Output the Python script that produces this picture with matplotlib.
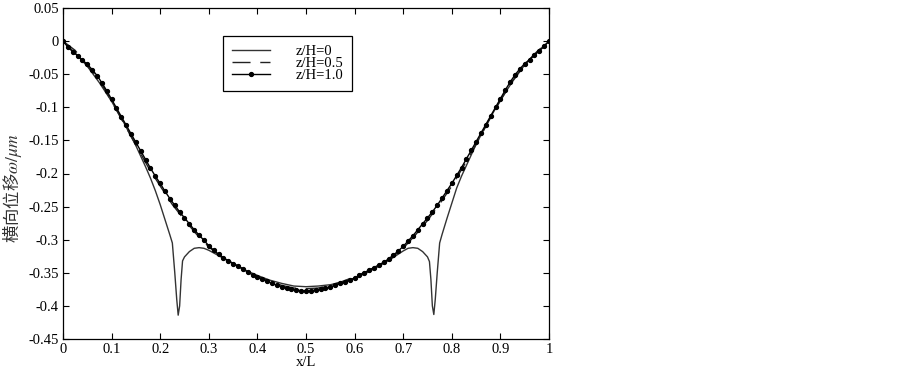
import numpy as np
import matplotlib
matplotlib.use('Agg')
import matplotlib.pyplot as plt

plt.rcParams['font.family'] = ['Liberation Serif', 'DejaVu Serif']
plt.rcParams['mathtext.fontset'] = 'stix'

# z/H = 1.0, sampled every 0.01 of x/L
x_100 = np.linspace(0, 1, 101)
w_100 = [0, -0.009, -0.016, -0.022, -0.029, -0.035, -0.043, -0.052, -0.063, -0.075,
         -0.088, -0.101, -0.114, -0.127, -0.140, -0.153, -0.166, -0.179, -0.192, -0.204,
         -0.215, -0.227, -0.238, -0.248, -0.258, -0.267, -0.276, -0.285, -0.293, -0.301,
         -0.309, -0.316, -0.322, -0.327, -0.332, -0.336, -0.340, -0.344, -0.349, -0.353,
         -0.357, -0.360, -0.363, -0.366, -0.369, -0.371, -0.373, -0.375, -0.376, -0.377,
         -0.377, -0.377, -0.376, -0.375, -0.373, -0.371, -0.369, -0.366, -0.364, -0.361,
         -0.358, -0.354, -0.350, -0.346, -0.342, -0.338, -0.334, -0.329, -0.323, -0.317,
         -0.310, -0.302, -0.294, -0.285, -0.276, -0.267, -0.258, -0.248, -0.237, -0.226,
         -0.215, -0.203, -0.191, -0.178, -0.165, -0.152, -0.139, -0.126, -0.113, -0.100,
         -0.087, -0.074, -0.062, -0.051, -0.042, -0.034, -0.028, -0.021, -0.015, -0.008, 0]

# z/H = 0.5
x_05 = np.linspace(0, 1, 41)
w_05 = [0, -0.014, -0.037, -0.059, -0.091, -0.124, -0.157, -0.190, -0.219, -0.247,
        -0.270, -0.292, -0.311, -0.325, -0.336, -0.346, -0.355, -0.363, -0.369, -0.373,
        -0.374, -0.373, -0.369, -0.363, -0.356, -0.348, -0.339, -0.328, -0.313, -0.293,
        -0.271, -0.246, -0.219, -0.188, -0.156, -0.122, -0.090, -0.060, -0.035, -0.016, 0]

# z/H = 0 (denser around the two spikes)
x_0 = [0, 0.025, 0.05, 0.075, 0.1, 0.125, 0.15, 0.16, 0.17, 0.18, 0.19, 0.2, 0.21, 0.22,
       0.225, 0.23, 0.234, 0.237, 0.24, 0.243, 0.246, 0.25, 0.26, 0.27, 0.28, 0.29, 0.3,
       0.325, 0.35, 0.375, 0.4, 0.425, 0.45, 0.475, 0.5,
       0.525, 0.55, 0.575, 0.6, 0.625, 0.65, 0.675, 0.7, 0.71, 0.72, 0.73, 0.74, 0.75,
       0.754, 0.757, 0.76, 0.763, 0.766, 0.77, 0.775, 0.78, 0.79, 0.8, 0.81, 0.82, 0.83,
       0.84, 0.85, 0.875, 0.9, 0.925, 0.95, 0.975, 1.0]
w_0 = [0, -0.018, -0.038, -0.063, -0.091, -0.123, -0.158, -0.174, -0.190, -0.207, -0.226,
       -0.247, -0.270, -0.293, -0.305, -0.350, -0.390, -0.414, -0.400, -0.360, -0.332,
       -0.326, -0.318, -0.313, -0.312, -0.313, -0.316, -0.326, -0.336, -0.346, -0.354,
       -0.361, -0.366, -0.370, -0.371,
       -0.370, -0.368, -0.364, -0.358, -0.350, -0.340, -0.329, -0.317, -0.313, -0.312,
       -0.313, -0.318, -0.326, -0.333, -0.360, -0.400, -0.413, -0.390, -0.350, -0.305,
       -0.292, -0.268, -0.245, -0.222, -0.204, -0.188, -0.172, -0.156, -0.121, -0.089,
       -0.061, -0.036, -0.017, 0]

labels = ['z/H=0', 'z/H=0.5', 'z/H=1.0']
x_ticks = ['0', '0.1', '0.2', '0.3', '0.4', '0.5', '0.6', '0.7', '0.8', '0.9', '1']
y_ticks = ['-0.45', '-0.4', '-0.35', '-0.3', '-0.25', '-0.2', '-0.15', '-0.1', '-0.05', '0', '0.05']

fig = plt.figure(figsize=(9.03, 3.76), dpi=100)
ax = fig.add_axes([63 / 903, 37 / 376, 486 / 903, 331 / 376])

ax.plot(x_0, w_0, color='#333333', lw=1.0, label=labels[0])
ax.plot(x_05, w_05, color='#222222', lw=1.0, dashes=(13, 7), label=labels[1])
ax.plot(x_100, w_100, color='black', lw=1.0, marker='o', ms=2.8, label=labels[2])

ax.set_xlim(0, 1)
ax.set_ylim(-0.45, 0.05)
ax.set_xticks(np.linspace(0, 1, 11))
ax.set_xticklabels(x_ticks)
ax.set_yticks(np.linspace(-0.45, 0.05, 11))
ax.set_yticklabels(y_ticks)
ax.tick_params(direction='in', top=True, right=True, length=4, width=0.8,
               labelsize=10.5, pad=3)
for s in ax.spines.values():
    s.set_linewidth(0.9)

ax.set_xlabel('x/L', fontsize=10.5, labelpad=0)
ax.set_ylabel('横向位移$\\omega/\\mu m$', fontsize=12.5, color='#333333',
              family=['Noto Sans CJK SC', 'DejaVu Sans'])
ax.yaxis.set_label_coords(-0.08, 0.455)

leg = ax.legend(loc='upper left', bbox_to_anchor=(0.329, 0.915), borderaxespad=0,
                fancybox=False, framealpha=1, edgecolor='black', fontsize=10.5,
                handlelength=2.6, handletextpad=1.8, labelspacing=-0.08,
                borderpad=0.6)
leg.get_frame().set_linewidth(0.9)

fig.savefig('out.png', dpi=100)
